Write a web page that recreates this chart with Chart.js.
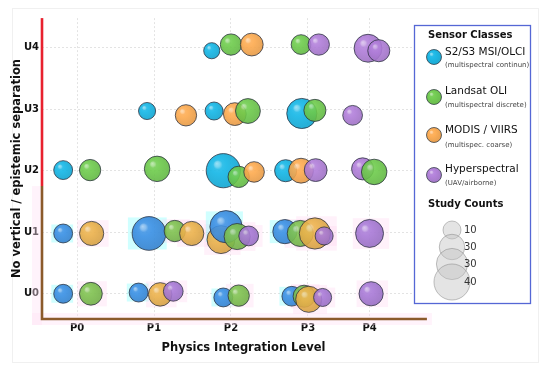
<!DOCTYPE html>
<html><head><meta charset="utf-8">
<script src="https://cdn.jsdelivr.net/npm/chart.js@4.4.1/dist/chart.umd.min.js"></script>
<style>html,body{margin:0;padding:0;background:#fff}#wrap{width:550px;height:368px;position:relative}</style>
</head><body><div id="wrap"><canvas id="c" width="550" height="368"></canvas></div>
<script>
// ---------- data ----------
const xLevels = ['P0', 'P1', 'P2', 'P3', 'P4'];
const xLevelValues = [0, 1, 2, 3, 3.8];
const yLevels = ['U0', 'U1', 'U2', 'U3', 'U4'];
const yLevelValues = [0, 1, 2, 3, 4];
const sensorClasses = ['S2/S3 MSI/OLCI', 'Landsat OLI', 'MODIS / VIIRS', 'Hyperspectral'];
const sensorNotes = ['(multispectral continun)', '(multispectral discrete)', '(multispec. coarse)', '(UAV/airborne)'];
const countLegendValues = [10, 20, 30, 40];
const countLegendLabels = ['10', '30', '30', '40'];
const xTitle = 'Physics Integration Level';
const yTitle = 'No vertical / epistemic separation';

// [physics level (jittered), uncertainty level (jittered), study count]
const s2Points = [
  [1.75, 3.95, 8],
  [0.91, 2.97, 9], [1.78, 2.97, 10], [2.92, 2.93, 28],
  [-0.18, 2.01, 11], [1.90, 2.00, 36], [2.71, 2.00, 15],
  [-0.18, 0.98, 11], [0.935, 0.98, 35], [1.935, 1.09, 32], [2.70, 1.01, 18],
  [-0.18, 0.00, 11], [0.80, 0.02, 11], [1.90, -0.06, 11], [2.79, -0.04, 12]
];
const landsatPoints = [
  [2.00, 4.05, 14], [2.91, 4.05, 12],
  [2.22, 2.97, 19], [3.09, 2.98, 15],
  [0.17, 2.01, 14], [1.04, 2.03, 20], [2.10, 1.90, 14], [3.86, 1.98, 20],
  [1.27, 1.02, 14], [2.08, 0.93, 21], [2.90, 0.98, 21],
  [0.18, 0.00, 16], [2.10, -0.03, 14], [2.95, -0.04, 15]
];
const modisPoints = [
  [2.27, 4.05, 16],
  [1.415, 2.90, 14], [2.05, 2.92, 16],
  [2.30, 1.98, 13], [2.91, 2.00, 19],
  [0.19, 0.98, 18], [1.49, 0.98, 18], [1.87, 0.88, 24], [3.09, 0.98, 30],
  [1.08, -0.01, 17], [3.01, -0.09, 21]
];
const hyperPoints = [
  [3.14, 4.05, 14], [3.78, 3.99, 24], [3.92, 3.95, 15],
  [3.58, 2.90, 12],
  [3.10, 2.01, 16], [3.71, 2.03, 15],
  [2.23, 0.94, 12], [3.21, 0.94, 10], [3.80, 0.98, 24],
  [1.25, 0.04, 12], [3.19, -0.06, 10], [3.82, 0.00, 18]
];

// ---------- styles ----------
const FONT = "'DejaVu Sans', 'Liberation Sans', sans-serif";
const colorsTop = ['#12B6E6', '#6DCB4B', '#FDAA4E', '#B07DD9'];
const colorsLow = ['#3C8FE4', '#7EC24F', '#EBB24B', '#A87AD7'];
function radiusFor(n) { return 2.85 * Math.sqrt(n); }
function hexToRgb(h) { h = h.replace('#', ''); return [0, 2, 4].map(i => parseInt(h.slice(i, i + 2), 16)); }
function mix(hex, target, t, a) {
  const c = hexToRgb(hex), d = hexToRgb(target);
  const r = c.map((v, i) => Math.round(v + (d[i] - v) * t));
  return 'rgba(' + r[0] + ',' + r[1] + ',' + r[2] + ',' + a + ')';
}
function bubbleGradient(ctx, px, py, r, hex, a) {
  if (!isFinite(px) || !isFinite(py) || !isFinite(r)) return mix(hex, '#ffffff', 0, a);
  const g = ctx.createRadialGradient(px - 0.38 * r, py - 0.42 * r, 0, px - 0.1 * r, py - 0.1 * r, r * 1.15);
  g.addColorStop(0, mix(hex, '#ffffff', 0.55, a));
  g.addColorStop(0.14, mix(hex, '#ffffff', 0.35, a));
  g.addColorStop(0.24, mix(hex, '#ffffff', 0.05, a));
  g.addColorStop(0.4, mix(hex, '#ffffff', 0.0, a));
  g.addColorStop(1, mix(hex, '#000000', 0.1, a));
  return g;
}
function colorOf(p) { return (p.y < 1.5 ? colorsLow : colorsTop)[p.series]; }

const seriesList = [s2Points, landsatPoints, modisPoints, hyperPoints];
const bubbles = [];
seriesList.forEach((pts, s) => pts.forEach(p => bubbles.push({ x: p[0], y: p[1], r: radiusFor(p[2]), count: p[2], series: s })));
bubbles.sort((a, b) => a.x - b.x);

// ---------- plugins ----------
const decor = {
  id: 'decor',
  beforeDraw(chart) {
    const ctx = chart.ctx;
    ctx.save();
    ctx.fillStyle = '#fff'; ctx.fillRect(0, 0, chart.width, chart.height);
    ctx.strokeStyle = '#f0f0f0'; ctx.lineWidth = 1;
    ctx.strokeRect(12.5, 8.5, 526, 354);
    ctx.restore();
  },
  beforeDatasetsDraw(chart) {
    const ctx = chart.ctx, xs = chart.scales.x, ys = chart.scales.y, a = chart.chartArea;
    const split = ys.getPixelForValue(1.75);
    const xEnd = xs.getPixelForValue(4.545);
    ctx.save();
    ctx.fillStyle = 'rgba(255,225,246,0.4)';
    ctx.fillRect(a.left - 10, split, 10, a.bottom - split + 6);
    ctx.fillRect(a.left - 10, a.bottom - 6, xEnd - a.left + 15, 12);
    const meta = chart.getDatasetMeta(0);
    meta.data.forEach((el, i) => {
      const p = bubbles[i];
      if (p.y >= 1.5) return;
      const r = p.r;
      if (p.series === 0) {
        ctx.fillStyle = 'rgba(110,255,255,0.32)';
        ctx.fillRect(el.x - 1.25 * r, el.y - 0.95 * r, 2.3 * r, 1.9 * r);
      } else {
        ctx.fillStyle = 'rgba(255,210,238,0.3)';
        ctx.fillRect(el.x - 1.2 * r, el.y - 1.1 * r, 2.6 * r, 2.2 * r);
      }
    });
    ctx.restore();
  },
  afterDatasetsDraw(chart) {
    const ctx = chart.ctx, xs = chart.scales.x, ys = chart.scales.y, a = chart.chartArea;
    const split = ys.getPixelForValue(1.75);
    const xEnd = xs.getPixelForValue(4.545);
    ctx.save();
    ctx.lineWidth = 2.6; ctx.lineCap = 'butt';
    ctx.strokeStyle = '#E8212E';
    ctx.beginPath(); ctx.moveTo(a.left, a.top); ctx.lineTo(a.left, split); ctx.stroke();
    ctx.strokeStyle = '#8B5A2B';
    ctx.beginPath(); ctx.moveTo(a.left, split); ctx.lineTo(a.left, a.bottom); ctx.lineTo(xEnd, a.bottom); ctx.stroke();
    ctx.restore();
  },
  afterDraw(chart) {
    const ctx = chart.ctx;
    ctx.save();
    ctx.fillStyle = '#fff';
    ctx.fillRect(414.5, 25.5, 116, 278);
    ctx.strokeStyle = '#5567D5'; ctx.lineWidth = 1.3;
    ctx.strokeRect(414.5, 25.5, 116, 278);
    ctx.textBaseline = 'middle'; ctx.textAlign = 'left';
    ctx.fillStyle = '#111';
    ctx.font = 'bold 10px ' + FONT;
    ctx.fillText('Sensor Classes', 428, 35);
    const markY = [57, 97, 135, 175], mainY = [52, 91, 130, 169], subY = [65, 105, 145, 183];
    sensorClasses.forEach((name, i) => {
      const r = 7.5, px = 434, py = markY[i];
      ctx.beginPath(); ctx.arc(px, py, r, 0, Math.PI * 2);
      ctx.fillStyle = bubbleGradient(ctx, px, py, r, colorsTop[i], 0.95); ctx.fill();
      ctx.strokeStyle = 'rgba(40,50,60,0.8)'; ctx.lineWidth = 0.9; ctx.stroke();
      ctx.fillStyle = '#111'; ctx.font = '10.5px ' + FONT;
      ctx.fillText(name, 445, mainY[i]);
      ctx.fillStyle = '#444'; ctx.font = '7px ' + FONT;
      ctx.fillText(sensorNotes[i], 445, subY[i]);
    });
    ctx.fillStyle = '#111'; ctx.font = 'bold 10px ' + FONT;
    ctx.fillText('Study Counts', 428, 204);
    const sizeY = [230, 247, 264, 282];
    countLegendValues.forEach((v, i) => {
      const r = radiusFor(v);
      ctx.beginPath(); ctx.arc(452, sizeY[i], r, 0, Math.PI * 2);
      ctx.fillStyle = 'rgba(195,195,195,0.45)'; ctx.fill();
      ctx.strokeStyle = 'rgba(130,130,130,0.55)'; ctx.lineWidth = 0.9; ctx.stroke();
    });
    ctx.fillStyle = '#333'; ctx.font = '10px ' + FONT;
    countLegendLabels.forEach((t, i) => ctx.fillText(t, 464, sizeY[i]));
    ctx.restore();
  }
};

// ---------- chart ----------
const chart = new Chart(document.getElementById('c'), {
  type: 'bubble',
  data: {
    datasets: [{
      label: 'Studies',
      data: bubbles,
      backgroundColor(c) {
        const p = c.raw;
        if (!p || p.series === undefined) return 'rgba(0,0,0,0)';
        const ch = c.chart;
        const xs = ch.scales && ch.scales.x, ys = ch.scales && ch.scales.y;
        const px = xs ? xs.getPixelForValue(p.x) : NaN, py = ys ? ys.getPixelForValue(p.y) : NaN;
        return bubbleGradient(ch.ctx, px, py, p.r, colorOf(p), 0.9);
      },
      borderColor: 'rgba(40,45,60,0.75)',
      borderWidth: 1,
      hoverRadius: 0
    }]
  },
  options: {
    responsive: false,
    animation: false,
    events: [],
    layout: { padding: { left: 0, top: 12, right: 105, bottom: 0 } },
    plugins: { legend: { display: false }, tooltip: { enabled: false } },
    scales: {
      x: {
        type: 'linear', min: -0.455, max: 4.78,
        afterBuildTicks(s) { s.ticks = xLevelValues.map(v => ({ value: v })); },
        afterFit(s) { s.height = 49; },
        ticks: {
          callback: (v, i) => xLevels[i],
          font: { family: FONT, size: 10, weight: 'bold' }, color: '#111', padding: 3, maxRotation: 0
        },
        grid: { color: '#dcdcdc', lineWidth: 0.8, drawTicks: false },
        border: { display: false, dash: [2, 2] },
        title: { display: true, text: xTitle, color: '#111', font: { family: FONT, size: 11.5, weight: 'bold' }, padding: { top: 0, bottom: 13 } }
      },
      y: {
        type: 'linear', min: -0.41, max: 4.48,
        afterBuildTicks(s) { s.ticks = yLevelValues.map(v => ({ value: v })); },
        afterFit(s) { s.width = 42; },
        ticks: {
          callback: (v, i) => yLevels[i],
          font: { family: FONT, size: 10, weight: 'bold' }, color: '#111', padding: 3
        },
        grid: { color: '#dcdcdc', lineWidth: 0.8, drawTicks: false },
        border: { display: false, dash: [2, 2] },
        title: { display: true, text: yTitle, color: '#111', font: { family: FONT, size: 11.5, weight: 'bold' }, padding: { top: 10, bottom: 0 } }
      }
    }
  },
  plugins: [decor]
});
</script>
</body></html>
